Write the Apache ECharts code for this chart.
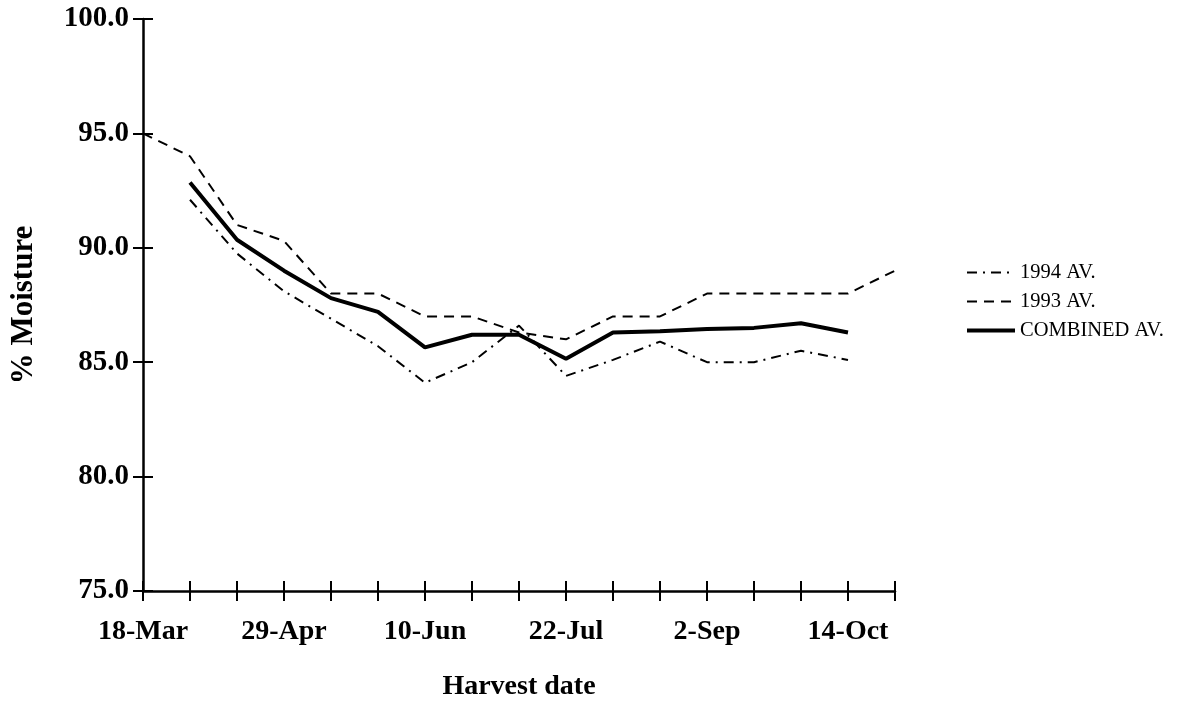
<!DOCTYPE html>
<html>
<head>
<meta charset="utf-8">
<title>% Moisture by harvest date</title>
<script src="https://cdn.jsdelivr.net/npm/echarts@6/dist/echarts.min.js"></script>
<style>
  html, body { margin: 0; padding: 0; background: #fff; }
  #chart { width: 1187px; height: 706px; }
</style>
</head>
<body>
<div id="chart"></div>
<script>
// Harvest dates, one every 14 days
const harvestDates = ['18-Mar', '1-Apr', '15-Apr', '29-Apr', '13-May', '27-May', '10-Jun',
  '24-Jun', '8-Jul', '22-Jul', '5-Aug', '19-Aug', '2-Sep', '16-Sep', '30-Sep', '14-Oct', '28-Oct'];

// % moisture per harvest date
const av1994 = [null, 92.1, 89.75, 88.1, 86.9, 85.7, 84.1, 85.0, 86.6, 84.4, 85.1, 85.9, 85.0, 85.0, 85.5, 85.1, null];
const av1993 = [95.0, 94.0, 91.0, 90.3, 88.0, 88.0, 87.0, 87.0, 86.3, 86.0, 87.0, 87.0, 88.0, 88.0, 88.0, 88.0, 89.0];
const combinedAv = [null, 92.85, 90.35, 89.0, 87.8, 87.2, 85.65, 86.2, 86.2, 85.15, 86.3, 86.35, 86.45, 86.5, 86.7, 86.3, null];

// y-axis range and step
const yMin = 75, yMax = 100, yStep = 5;

const serif = 'Liberation Serif, Times New Roman, serif';
const ink = '#000';

const chart = echarts.init(document.getElementById('chart'), null, { renderer: 'canvas' });

// Ticks cross the axis line: one axis carries the outward half, a twin axis the inward half.
const xBase = {
  type: 'category',
  data: harvestDates,
  boundaryGap: false,
  axisTick: { show: true, interval: 0, length: 10, lineStyle: { color: ink, width: 2 } }
};
const yBase = {
  type: 'value',
  min: yMin, max: yMax, interval: yStep,
  splitLine: { show: false },
  axisTick: { show: true, length: 10, lineStyle: { color: ink, width: 2 } }
};

chart.setOption({
  animation: false,
  backgroundColor: '#fff',
  grid: { left: 141, right: 292, top: 19, bottom: 113, containLabel: false },
  legend: {
    orient: 'vertical',
    left: 965,
    top: 262,
    padding: 0,
    itemWidth: 48,
    itemHeight: 14,
    itemGap: 8,
    itemStyle: { opacity: 0 },
    lineStyle: { width: 'inherit' },
    textStyle: { fontFamily: serif, fontSize: 20.5, color: ink },
    data: ['1994 AV.', '1993 AV.', 'COMBINED AV.']
  },
  xAxis: [
    Object.assign({}, xBase, {
      position: 'bottom',
      axisLine: { show: true, lineStyle: { color: ink, width: 2.5 } },
      axisLabel: {
        interval: 2, margin: 27, color: ink,
        fontFamily: serif, fontWeight: 'bold', fontSize: 28
      },
      name: 'Harvest date',
      nameLocation: 'middle',
      nameGap: 82,
      nameTextStyle: { fontFamily: serif, fontWeight: 'bold', fontSize: 28, color: ink }
    }),
    Object.assign({}, xBase, {
      position: 'bottom',
      axisLine: { show: false },
      axisLabel: { show: false },
      axisTick: Object.assign({}, xBase.axisTick, { inside: true })
    })
  ],
  yAxis: [
    Object.assign({}, yBase, {
      position: 'left',
      axisLine: { show: true, lineStyle: { color: ink, width: 2.5 } },
      axisLabel: {
        margin: 14, color: ink,
        fontFamily: serif, fontWeight: 'bold', fontSize: 29,
        formatter: v => v.toFixed(1)
      },
      name: '% Moisture',
      nameLocation: 'middle',
      nameRotate: 90,
      nameGap: 104,
      nameTextStyle: { fontFamily: serif, fontWeight: 'bold', fontSize: 31, color: ink }
    }),
    Object.assign({}, yBase, {
      position: 'left',
      axisLine: { show: false },
      axisLabel: { show: false },
      axisTick: Object.assign({}, yBase.axisTick, { inside: true })
    })
  ],
  series: [
    {
      name: '1994 AV.', type: 'line', data: av1994,
      symbol: 'none', connectNulls: false,
      lineStyle: { color: ink, width: 2, type: [10, 6, 2, 6] },
      itemStyle: { color: ink }
    },
    {
      name: '1993 AV.', type: 'line', data: av1993,
      symbol: 'none',
      lineStyle: { color: ink, width: 2, type: [10, 7] },
      itemStyle: { color: ink }
    },
    {
      name: 'COMBINED AV.', type: 'line', data: combinedAv,
      symbol: 'none', connectNulls: false,
      lineStyle: { color: ink, width: 4 },
      itemStyle: { color: ink }
    }
  ]
});
</script>
</body>
</html>
